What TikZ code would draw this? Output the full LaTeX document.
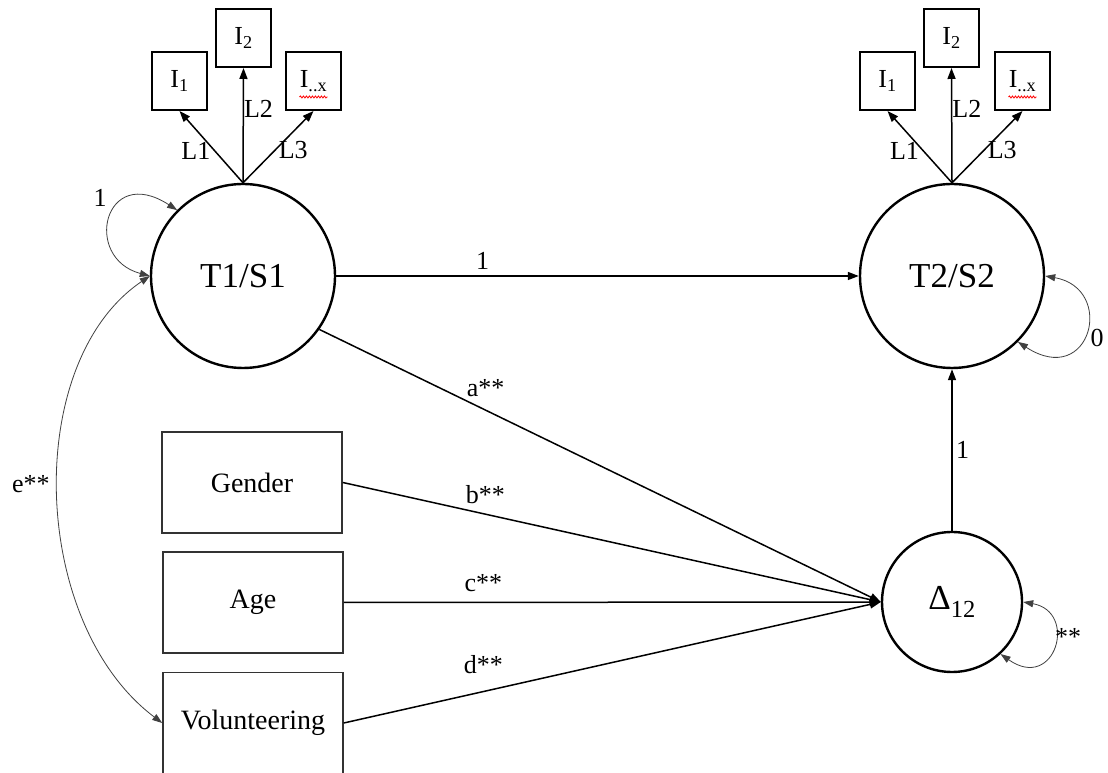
\documentclass[tikz,border=0pt]{standalone}
\usepackage{fontspec}
\setmainfont{Liberation Serif}
\usetikzlibrary{arrows.meta,decorations.pathmorphing}

\begin{document}
\begin{tikzpicture}[x=1pt, y=1pt, >={Triangle[length=11pt,width=8pt]},
  font=\fontsize{26}{28}\selectfont,
  lat/.style={draw, circle, line width=2.4pt, minimum size=184pt, inner sep=0pt, font=\fontsize{35}{38}\selectfont},
  ind/.style={draw, line width=2pt, minimum width=55pt, minimum height=58pt, inner sep=0pt},
  obs/.style={draw=black!80, line width=1.6pt, minimum width=180pt, minimum height=101pt, font=\fontsize{28}{30}\selectfont},
  reg/.style={->, line width=1.5pt},
  self/.style={<->, line width=0.8pt, draw=black!75, >={Triangle[length=10pt,width=7pt]}},
  wavy/.style={red, line width=0.8pt, decorate, decoration={snake, amplitude=1pt, segment length=3pt}}]
  \useasboundingbox[fill=white] (0,0) rectangle (1108,773);

  % latent factors
  \node[lat] (t1) at (243,497) {T1/S1};
  \node[lat] (t2) at (952,497) {T2/S2};
  \node[lat, minimum size=140pt] (d12) at (952,171) {Δ\textsubscript{12}};

  % indicators
  \node[ind] (i1a) at (179.5,692) {I\textsubscript{1}};
  \node[ind] (i2a) at (243.5,735) {I\textsubscript{2}};
  \node[ind] (ixa) at (313.5,692) {I\textsubscript{..x}};
  \node[ind] (i1b) at (887.5,692) {I\textsubscript{1}};
  \node[ind] (i2b) at (951.5,735) {I\textsubscript{2}};
  \node[ind] (ixb) at (1022.5,692) {I\textsubscript{..x}};
  \draw[wavy] ([xshift=-14pt,yshift=-16pt]ixa.center) -- ([xshift=14pt,yshift=-16pt]ixa.center);
  \draw[wavy] ([xshift=-14pt,yshift=-16pt]ixb.center) -- ([xshift=14pt,yshift=-16pt]ixb.center);

  % covariates
  \node[obs] (gen) at (252,290.5) {Gender};
  \node[obs] (age) at (253,170.5) {Age};
  \node[obs] (vol) at (253,50) {Volunteering};

  % loadings
  \draw[reg] (t1.north) -- node[left, pos=0.45]{L1} (i1a.south);
  \draw[reg] (t1.north) -- node[right, pos=0.64, inner sep=0pt]{L2} (i2a.south);
  \draw[reg] (t1.north) -- node[right, pos=0.45]{L3} (ixa.south);
  \draw[reg] (t2.north) -- node[left, pos=0.45]{L1} (i1b.south);
  \draw[reg] (t2.north) -- node[right, pos=0.64, inner sep=0pt]{L2} (i2b.south);
  \draw[reg] (t2.north) -- node[right, pos=0.45]{L3} (ixb.south);

  % structural paths
  \draw[reg] (t1) -- node[above=2pt, pos=0.28]{1} (t2);
  \draw[reg] (d12) -- node[right]{1} (t2);
  \draw[reg] (t1.-35) -- node[above=9pt, pos=0.296]{a**} (d12.west);
  \draw[reg] (gen.east) -- node[above=6pt, pos=0.265]{b**} (d12.west);
  \draw[reg] (age.east) -- node[above=7pt, pos=0.26]{c**} (d12.west);
  \draw[reg] (vol.east) -- node[above=14pt, pos=0.26]{d**} (d12.west);

  % variances and covariance
  \draw[self] (t1.180) to[out=165, in=147, out distance=70pt, in distance=87pt] (t1.135);
  \node (v1) at (100,575) {1};
  \draw[self] (t2.0) to[out=-10, in=-33, out distance=72pt, in distance=87pt] (t2.-45);
  \node (v2) at (1097,435) {0};
  \draw[self] (d12.0) to[out=-10, in=-35, out distance=56pt, in distance=67pt] (d12.-47);
  \node (v3) at (1068,136) {**};
  \draw[self] (t1.180) to[out=214, in=143, out distance=154pt, in distance=166pt]
    node[left=5pt, yshift=10pt]{e**} (vol.west);
\end{tikzpicture}
\end{document}
